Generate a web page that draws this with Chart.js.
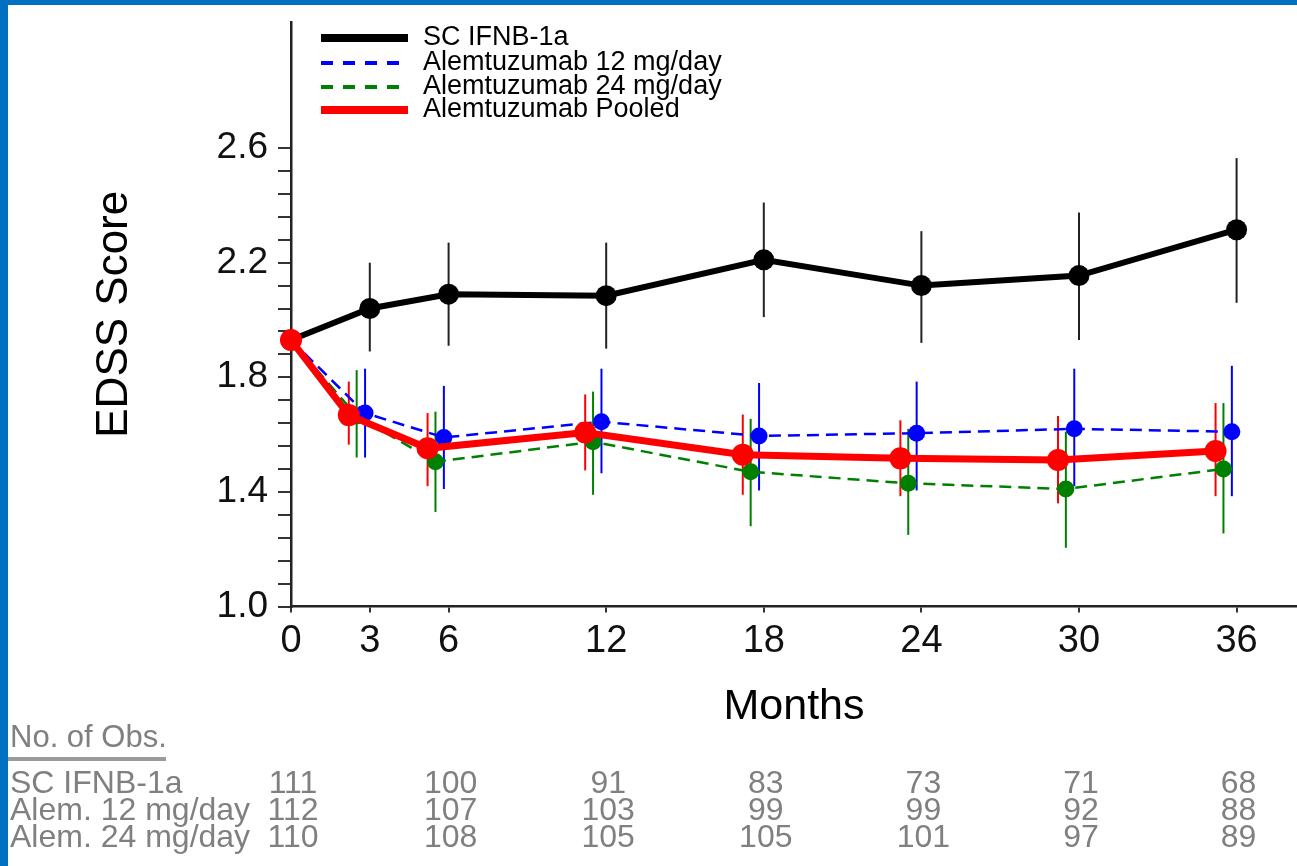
<!DOCTYPE html>
<html>
<head>
<meta charset="utf-8">
<title>EDSS Score over 36 months</title>
<script src="https://cdn.jsdelivr.net/npm/chart.js@4.4.1/dist/chart.umd.min.js"></script>
<style>
  html, body { margin: 0; padding: 0; background: #fff; }
  canvas { display: block; }
</style>
</head>
<body>
<canvas id="edssChart" width="1297" height="866"></canvas>
<script>
// Months of follow-up and axis ticks
const months = [0, 3, 6, 12, 18, 24, 30, 36];
const monthTicks = [0, 3, 6, 12, 18, 24, 30, 36];
const edssTicks = [1.0, 1.4, 1.8, 2.2, 2.6];

// Mean EDSS with error bar ends
const ifnbMean = [1.93, 2.04, 2.09, 2.085, 2.21, 2.12, 2.155, 2.315];
const ifnbLow  = [null, 1.89, 1.91, 1.90, 2.01, 1.92, 1.93, 2.06];
const ifnbHigh = [null, 2.20, 2.27, 2.27, 2.41, 2.31, 2.375, 2.565];

const alem12Mean = [1.93, 1.675, 1.59, 1.645, 1.595, 1.605, 1.62, 1.61];
const alem12Low  = [null, 1.52, 1.41, 1.465, 1.405, 1.405, 1.42, 1.385];
const alem12High = [null, 1.83, 1.77, 1.83, 1.78, 1.785, 1.83, 1.84];

const alem24Mean = [1.93, 1.665, 1.505, 1.575, 1.47, 1.43, 1.41, 1.48];
const alem24Low  = [null, 1.52, 1.33, 1.39, 1.28, 1.25, 1.205, 1.255];
const alem24High = [null, 1.825, 1.68, 1.75, 1.655, 1.62, 1.61, 1.71];

const pooledMean = [1.93, 1.668, 1.552, 1.607, 1.53, 1.517, 1.511, 1.543];
const pooledLow  = [null, 1.565, 1.42, 1.475, 1.39, 1.385, 1.36, 1.385];
const pooledHigh = [null, 1.785, 1.675, 1.74, 1.67, 1.65, 1.665, 1.71];

// Number of observations table
const obsMonths = [0, 6, 12, 18, 24, 30, 36];
const obsIfnb   = [111, 100, 91, 83, 73, 71, 68];
const obsAlem12 = [112, 107, 103, 99, 99, 92, 88];
const obsAlem24 = [110, 108, 105, 105, 101, 97, 89];

const FONT = '"Liberation Sans", Arial, sans-serif';

// small sideways shift so the error bars don't sit on top of each other
const points = (vals, shift) => vals.map((v, i) => ({
    x: months[i] === 0 ? 0 : months[i] + shift,
    y: v
}));

// minor ticks: 4 between each labelled value
const yTickValues = [];
edssTicks.forEach((v, i) => {
    yTickValues.push(v);
    if (i < edssTicks.length - 1) {
        const step = (edssTicks[i + 1] - v) / 5;
        for (let k = 1; k < 5; k++) yTickValues.push(v + k * step);
    }
});

const noPad = axis => {
    axis.paddingLeft = 0;
    axis.paddingRight = 0;
    axis.paddingTop = 0;
    axis.paddingBottom = 0;
};

const framePlugin = {
    id: 'frame',
    beforeDraw(chart) {
        const ctx = chart.ctx;
        ctx.save();
        ctx.fillStyle = '#fff';
        ctx.fillRect(0, 0, chart.width, chart.height);
        ctx.fillStyle = '#0070c0';
        ctx.fillRect(0, 0, chart.width, 5);
        ctx.fillRect(0, 0, 8, chart.height);
        ctx.restore();
    }
};

const errorBarPlugin = {
    id: 'errorBars',
    beforeDatasetsDraw(chart) {
        const ctx = chart.ctx;
        const xs = chart.scales.x, ys = chart.scales.y;
        ctx.save();
        chart.data.datasets.forEach(ds => {
            ctx.strokeStyle = ds.errColor;
            ctx.lineWidth = 2;
            ds.data.forEach((p, i) => {
                if (ds.errLow[i] == null) return;
                const x = xs.getPixelForValue(p.x);
                ctx.beginPath();
                ctx.moveTo(x, ys.getPixelForValue(ds.errLow[i]));
                ctx.lineTo(x, ys.getPixelForValue(ds.errHigh[i]));
                ctx.stroke();
            });
        });
        ctx.restore();
    }
};

const legendPlugin = {
    id: 'topLegend',
    afterDraw(chart) {
        const ctx = chart.ctx;
        const rowY = [38, 63, 87, 110];
        ctx.save();
        ctx.font = '27px ' + FONT;
        ctx.textBaseline = 'middle';
        chart.data.datasets.forEach((ds, i) => {
            const y = rowY[i];
            ctx.strokeStyle = ds.borderColor;
            ctx.lineWidth = ds.borderDash ? 4 : 8;
            ctx.setLineDash(ds.borderDash ? [12, 10] : []);
            ctx.beginPath();
            ctx.moveTo(321, y);
            ctx.lineTo(408, y);
            ctx.stroke();
            ctx.setLineDash([]);
            ctx.fillStyle = '#000';
            ctx.fillText(ds.label, 423, y);
        });
        ctx.restore();
    }
};

const obsTablePlugin = {
    id: 'obsTable',
    afterDraw(chart) {
        const ctx = chart.ctx;
        const xs = chart.scales.x;
        const rows = [
            ['SC IFNB-1a', obsIfnb],
            ['Alem. 12 mg/day', obsAlem12],
            ['Alem. 24 mg/day', obsAlem24]
        ];
        const rowY = [784, 811, 838];
        ctx.save();
        ctx.fillStyle = '#808080';
        ctx.textBaseline = 'middle';
        ctx.font = '31px ' + FONT;
        ctx.textAlign = 'left';
        ctx.fillText('No. of Obs.', 10, 738);
        ctx.fillStyle = '#9a9a9a';
        ctx.fillRect(8, 757, 158, 4);
        ctx.fillStyle = '#808080';
        ctx.font = '32px ' + FONT;
        rows.forEach((r, j) => {
            ctx.textAlign = 'left';
            ctx.fillText(r[0], 10, rowY[j]);
            ctx.textAlign = 'center';
            r[1].forEach((n, i) => {
                ctx.fillText(String(n), xs.getPixelForValue(obsMonths[i]) + 2, rowY[j]);
            });
        });
        ctx.restore();
    }
};

new Chart(document.getElementById('edssChart'), {
    type: 'line',
    data: {
        datasets: [
            {
                label: 'SC IFNB-1a',
                data: points(ifnbMean, 0),
                errLow: ifnbLow, errHigh: ifnbHigh, errColor: '#222',
                borderColor: '#000', backgroundColor: '#000',
                borderWidth: 6, pointRadius: 10.5, pointBorderWidth: 0,
                order: 1
            },
            {
                label: 'Alemtuzumab 12 mg/day',
                data: points(alem12Mean, -0.18),
                errLow: alem12Low, errHigh: alem12High, errColor: '#0000ff',
                borderColor: '#0000ff', backgroundColor: '#0000ff',
                borderWidth: 2.5, borderDash: [12, 7], pointRadius: 8.5, pointBorderWidth: 0,
                order: 2
            },
            {
                label: 'Alemtuzumab 24 mg/day',
                data: points(alem24Mean, -0.5),
                errLow: alem24Low, errHigh: alem24High, errColor: '#008000',
                borderColor: '#008000', backgroundColor: '#008000',
                borderWidth: 2.5, borderDash: [12, 7], pointRadius: 8.5, pointBorderWidth: 0,
                order: 3
            },
            {
                label: 'Alemtuzumab Pooled',
                data: points(pooledMean, -0.8),
                errLow: pooledLow, errHigh: pooledHigh, errColor: '#ff0000',
                borderColor: '#ff0000', backgroundColor: '#ff0000',
                borderWidth: 7, pointRadius: 11, pointBorderWidth: 0,
                order: 0
            }
        ]
    },
    options: {
        responsive: false,
        animation: false,
        clip: false,
        layout: { autoPadding: false, padding: { top: 22, left: 0, right: 0, bottom: 0 } },
        plugins: {
            legend: { display: false },
            tooltip: { enabled: false }
        },
        scales: {
            x: {
                type: 'linear',
                min: 0,
                max: 38.3,
                afterBuildTicks: axis => { axis.ticks = monthTicks.map(v => ({ value: v })); },
                afterFit: axis => { axis.height = 866 - 606.5; noPad(axis); },
                grid: { drawOnChartArea: false, tickLength: 6, color: '#333', lineWidth: 2 },
                border: { color: '#222', width: 2.5 },
                ticks: {
                    autoSkip: false, maxRotation: 0, padding: 6,
                    color: '#111', font: { family: FONT, size: 38 },
                    callback: v => String(v)
                },
                title: {
                    display: true, text: 'Months', color: '#000',
                    font: { family: FONT, size: 43 },
                    padding: { top: 0, bottom: 133 }
                }
            },
            y: {
                type: 'linear',
                min: 1.0,
                max: 3.04,
                afterBuildTicks: axis => { axis.ticks = yTickValues.map(v => ({ value: v })); },
                afterFit: axis => { axis.width = 291; noPad(axis); },
                grid: { drawOnChartArea: false, tickLength: 13, color: '#333', lineWidth: 2 },
                border: { color: '#222', width: 2.5 },
                ticks: {
                    autoSkip: false, padding: 10,
                    color: '#111', font: { family: FONT, size: 37 },
                    callback: v => edssTicks.some(t => Math.abs(t - v) < 1e-6) ? v.toFixed(1) : ''
                },
                title: {
                    display: true, text: 'EDSS Score', color: '#000',
                    font: { family: FONT, size: 44 },
                    padding: { top: 88, bottom: 0 }
                }
            }
        }
    },
    plugins: [framePlugin, errorBarPlugin, legendPlugin, obsTablePlugin]
});
</script>
</body>
</html>
